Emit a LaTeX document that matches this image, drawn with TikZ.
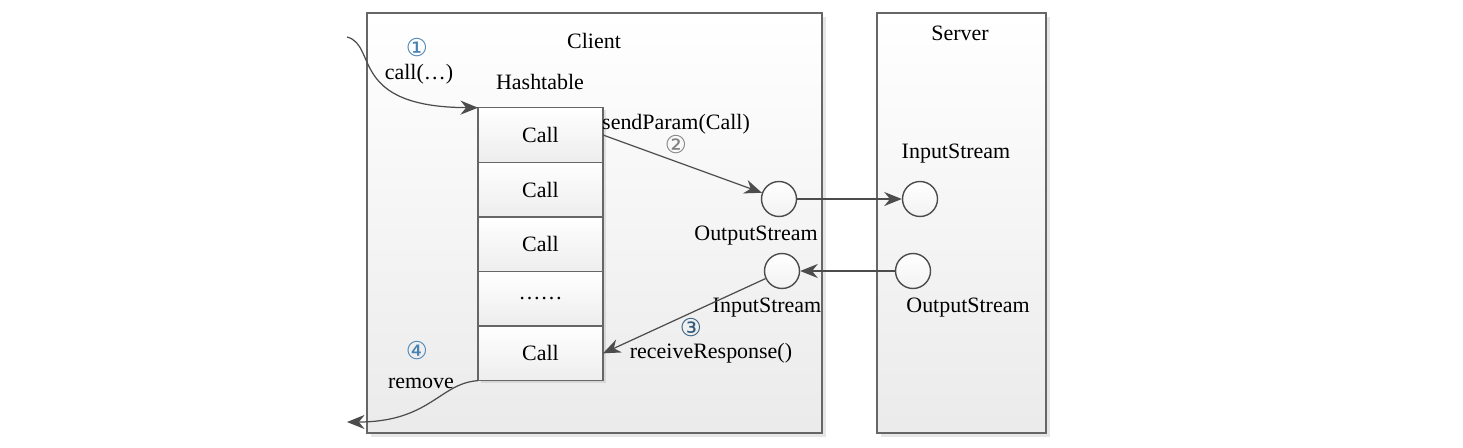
\documentclass[tikz,border=0pt]{standalone}
\usepackage{fontspec}
\setmainfont{Liberation Serif}
\newfontfamily\circfont{DejaVu Sans}
\usetikzlibrary{positioning, shadows, arrows.meta}
\definecolor{stepblue}{RGB}{70,130,180}

\begin{document}
\begin{tikzpicture}[x=0.02cm, y=0.02cm, font=\fontsize{12.5}{15}\selectfont]
  \newcommand\cellwidth{2.5cm}
  \newcommand\cellheight{1.092cm}
  \newcommand\portsize{0.7cm}

  \tikzset{ptr/.style={-{Stealth[length=10pt, width=8pt]}, draw=black!70, line width=0.7pt}}
  \tikzset{panel/.style={draw=black!60, line width=0.7pt, top color=white, bottom color=black!8, drop shadow={opacity=0.2, shadow xshift=2pt, shadow yshift=-2pt}}}
  \tikzset{callcell/.style={draw=black!60, line width=0.8pt, top color=white, bottom color=black!7, minimum width=\cellwidth, minimum height=\cellheight, inner sep=0pt, outer sep=0pt, drop shadow={opacity=0.2, shadow xshift=1.5pt, shadow yshift=-1.5pt}}}
  \tikzset{port/.style={circle, draw=black!70, line width=0.8pt, top color=white, bottom color=black!5, minimum size=\portsize, inner sep=0pt}}
  \tikzset{stepnum/.style={font=\circfont\fontsize{14}{16}\selectfont, text=black!50, inner sep=0pt}}
  \tikzset{lbl/.style={inner sep=1pt}}

  \useasboundingbox (0,0) rectangle (1463,447);

  % client and server panels
  \path[panel] (367,14) rectangle (822,434);
  \path[panel] (877,14) rectangle (1046,434);
  \node (client) at (594,406) {Client};
  \node (server) at (960,414) {Server};

  % hashtable of calls
  \node (hashtable) at (540,365) {Hashtable};
  \node[callcell] at (540.5,312) (cell1) {Call};
  \foreach \idx/\lbl [count=\previdx from 1] in {2/Call, 3/Call, 4/{\ldots\ldots}, 5/Call}{
    \node[callcell, below=0 of cell\previdx] (cell\idx) {\lbl};
  }

  % streams
  \node[port] at (779,248) (cout) {};
  \node[port] at (782,176) (cin) {};
  \node[port] at (920,248) (sin) {};
  \node[port] at (913,176) (sout) {};
  \node[lbl] at (756,211) (coutlbl) {OutputStream};
  \node[lbl] at (767,139) (cinlbl) {InputStream};
  \node[lbl] at (956,293) (sinlbl) {InputStream};
  \node[lbl] at (968,139) (soutlbl) {OutputStream};

  % step 1: call
  \coordinate (callin) at (347,410);
  \node[stepnum, text=stepblue] at (417,399) (step1) {①};
  \node[lbl] at (419,373) (calllbl) {call(\ldots)};
  \draw[ptr] (callin) .. controls (378,402) and (348,340) .. (cell1.north west);

  % step 2: send
  \node[lbl] at (676,323) (sendlbl) {sendParam(Call)};
  \node[stepnum] at (676,302) (step2) {②};
  \draw[ptr] (cell1.east) -- (cout);
  \draw[ptr] (cout) -- (sin);

  % step 3: receive
  \draw[ptr] (sout) -- (cin);
  \draw[ptr] (cin) -- (cell5.east);
  \node[stepnum, text=stepblue!70!black] at (691,119) (step3) {③};
  \node[lbl] at (711,94) (recvlbl) {receiveResponse()};

  % step 4: remove
  \coordinate (callout) at (347,25);
  \node[stepnum, text=stepblue] at (417,96) (step4) {④};
  \node[lbl] at (421,64) (removelbl) {remove};
  \draw[ptr] (cell5.south west) .. controls (440,64) and (430,25) .. (callout);
\end{tikzpicture}
\end{document}
